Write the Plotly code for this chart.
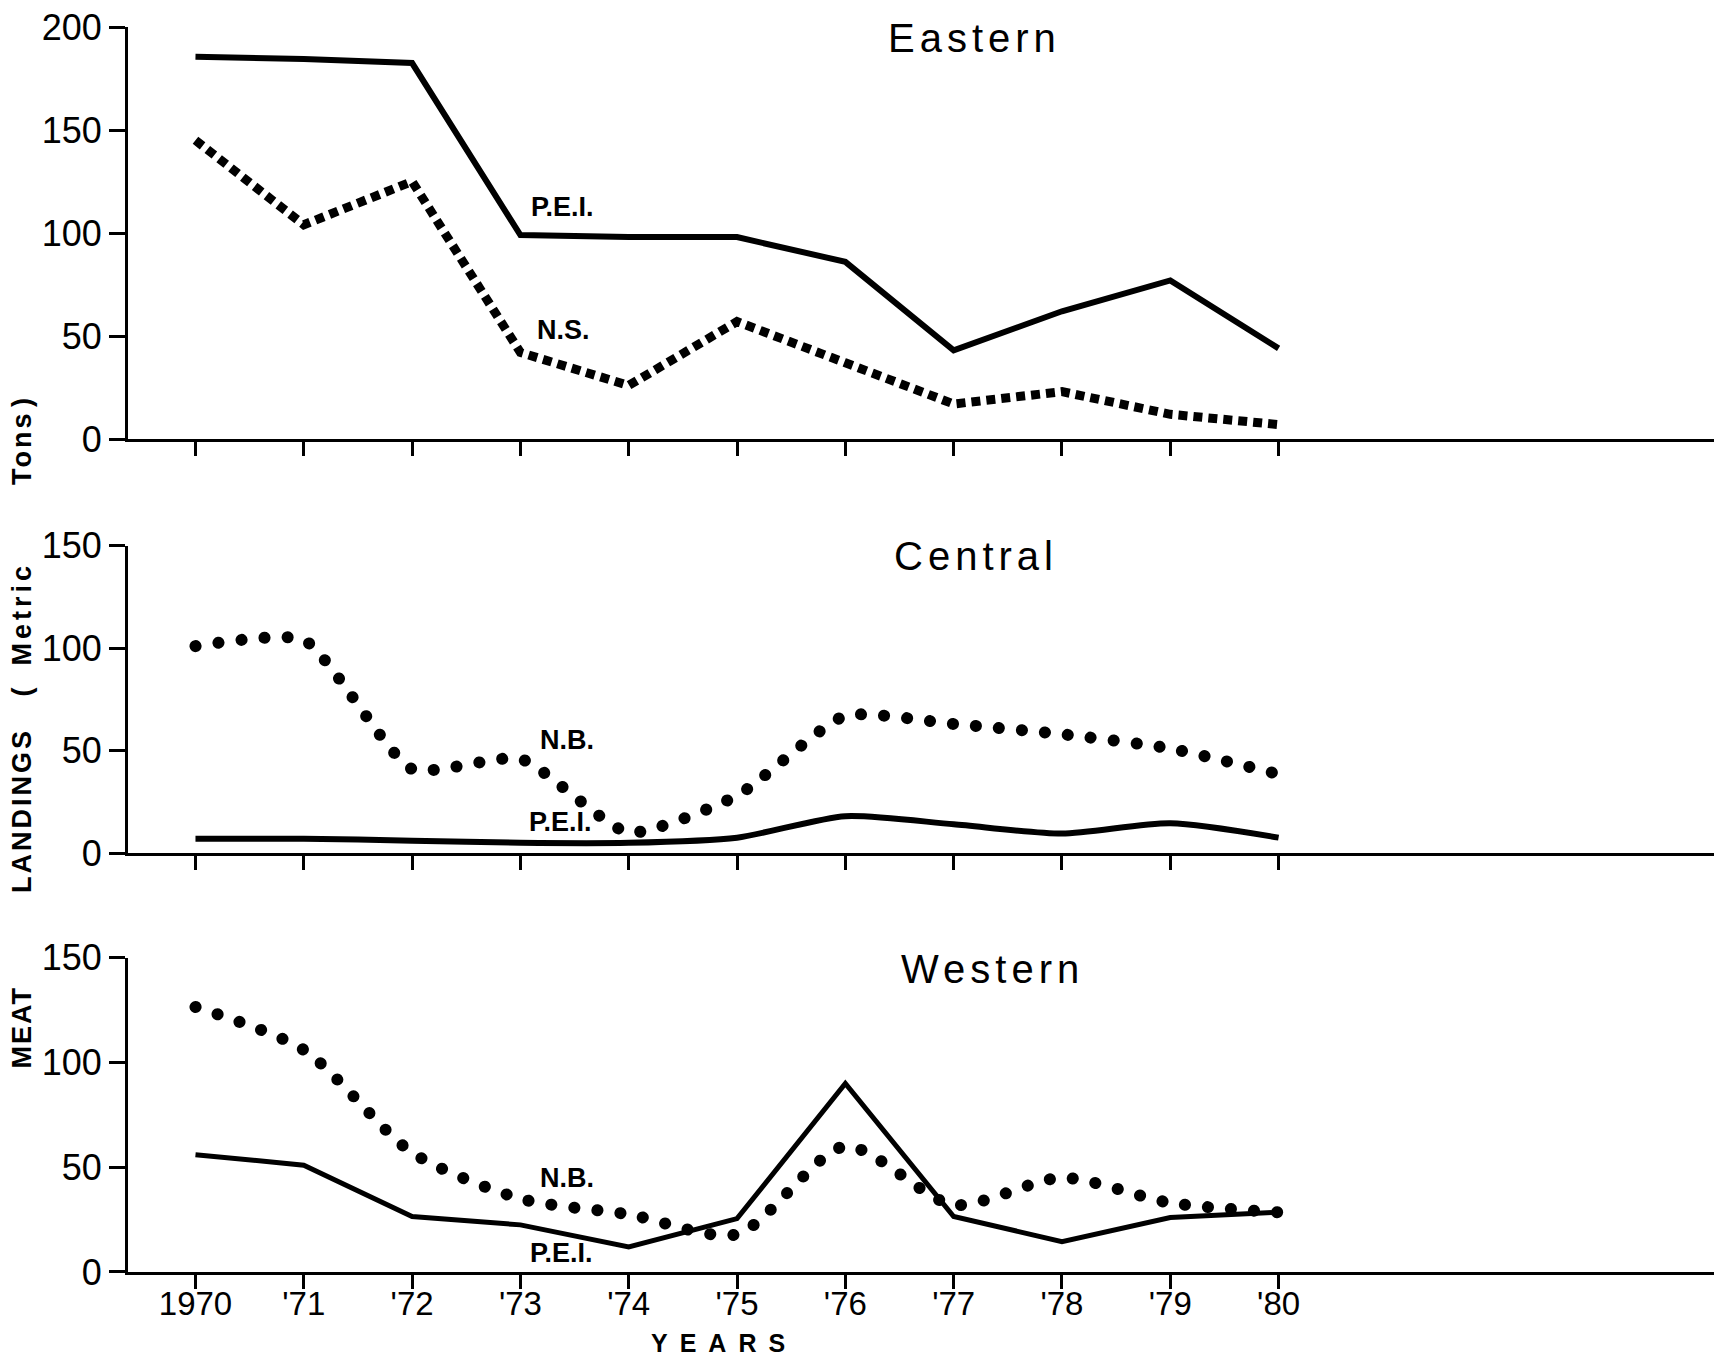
import plotly.graph_objects as go

# ---------------- data ----------------
years = [1970, 1971, 1972, 1973, 1974, 1975, 1976, 1977, 1978, 1979, 1980]
year_labels = ["1970", "'71", "'72", "'73", "'74", "'75", "'76", "'77", "'78", "'79", "'80"]

eastern_pei = [185.5, 184.5, 182.5, 99, 98, 98, 86, 43, 62, 77, 44]
eastern_ns = [145, 104, 125, 42, 26, 57, 37, 17, 23, 12, 7]

central_nb = [101, 104, 41, 46, 10, 28, 67, 63, 58, 51, 38.5]
central_pei = [7, 7, 6, 5, 5, 7.5, 18, 14, 9.5, 14.5, 7.5]

western_nb = [126.5, 106, 57, 35, 27.5, 18, 60, 32, 45, 33, 28.5]
western_pei = [56, 51, 26.5, 22.5, 12, 25.5, 90, 26.5, 14.5, 26, 28.5]

# ---------------- layout helpers ----------------
W, H = 1721, 1363
ML, MR, MT, MB = 128, 7, 24, 91
PW = W - ML - MR
PH = H - MT - MB


def px_x(X):
    return (X - ML) / PW


def px_y(Y):
    return (H - MB - Y) / PH


FONT = "Liberation Sans, Arial, Helvetica, sans-serif"
BLACK = "#000000"
ROUND_DASH = "13px,13px"

fig = go.Figure()

# Eastern
fig.add_trace(go.Scatter(x=years, y=eastern_pei, mode="lines", xaxis="x", yaxis="y",
                         line=dict(color=BLACK, width=6), showlegend=False))
fig.add_trace(go.Scatter(x=years, y=eastern_ns, mode="lines", xaxis="x", yaxis="y",
                         line=dict(color=BLACK, width=9, dash="9px,6px"), showlegend=False))
# Central
fig.add_trace(go.Scatter(x=years, y=central_pei, mode="lines", xaxis="x2", yaxis="y2",
                         line=dict(color=BLACK, width=6, shape="spline", smoothing=0.7),
                         showlegend=False))
fig.add_trace(go.Scatter(x=years, y=central_nb, mode="lines", xaxis="x2", yaxis="y2",
                         line=dict(color=BLACK, width=12, dash=ROUND_DASH, shape="spline",
                                   smoothing=0.55), showlegend=False))
# Western
fig.add_trace(go.Scatter(x=years, y=western_pei, mode="lines", xaxis="x3", yaxis="y3",
                         line=dict(color=BLACK, width=5), showlegend=False))
fig.add_trace(go.Scatter(x=years, y=western_nb, mode="lines", xaxis="x3", yaxis="y3",
                         line=dict(color=BLACK, width=12, dash=ROUND_DASH, shape="spline",
                                   smoothing=0.75), showlegend=False))

xr = [1969.377, 1984.02]

xcommon = dict(range=xr, showline=True, linecolor=BLACK, linewidth=3, ticks="outside",
               ticklen=14, tickwidth=3, tickcolor=BLACK, tickvals=years, showgrid=False,
               zeroline=False, fixedrange=True)
ycommon = dict(showline=True, linecolor=BLACK, linewidth=3, ticks="outside", ticklen=16,
               tickwidth=3, tickcolor=BLACK, showgrid=False, zeroline=False,
               tickfont=dict(family=FONT, size=36, color=BLACK), fixedrange=True)

dom_top = [px_y(437), 1.0]
dom_mid = [px_y(852), px_y(544)]
dom_bot = [0.0, px_y(957)]

fig.update_layout(
    width=W, height=H,
    margin=dict(l=ML, r=MR, t=MT, b=MB),
    paper_bgcolor="white", plot_bgcolor="white",
    font=dict(family=FONT, color=BLACK),
    xaxis=dict(xcommon, anchor="y", showticklabels=False),
    xaxis2=dict(xcommon, anchor="y2", showticklabels=False),
    xaxis3=dict(xcommon, anchor="y3", showticklabels=True, ticktext=year_labels,
                ticklabelstandoff=-14,
                tickfont=dict(family=FONT, size=33, color=BLACK)),
    yaxis=dict(ycommon, domain=dom_top, range=[0, 200], tickvals=[0, 50, 100, 150, 200],
               anchor="x"),
    yaxis2=dict(ycommon, domain=dom_mid, range=[0, 150], tickvals=[0, 50, 100, 150],
                anchor="x2"),
    yaxis3=dict(ycommon, domain=dom_bot, range=[0, 150], tickvals=[0, 50, 100, 150],
                anchor="x3"),
)


def sp(text, ls):
    return '<span style="letter-spacing:%spx">%s</span>' % (ls, text)


def ann(text, X, Y, size, bold=False, angle=0, ls=0):
    t = sp(text, ls) if ls else text
    if bold:
        t = "<b>" + t + "</b>"
    fig.add_annotation(text=t, x=px_x(X), y=px_y(Y), xref="paper", yref="paper",
                       xanchor="center", yanchor="middle", showarrow=False,
                       textangle=angle, font=dict(family=FONT, size=size, color=BLACK))


# panel titles
ann("Eastern", 974, 35, 40, ls=5)
ann("Central", 976, 554, 40, ls=5)
ann("Western", 992, 968, 40, ls=5)

# series labels
ann("P.E.I.", 562, 204, 27, bold=True)
ann("N.S.", 563, 328, 27, bold=True)
ann("N.B.", 567, 739, 27, bold=True)
ann("P.E.I.", 560, 821, 27, bold=True)
ann("N.B.", 567, 1178, 27, bold=True)
ann("P.E.I.", 561, 1253, 27, bold=True)

# axis titles
ann("YEARS", 724, 1343, 25, bold=True, ls=12)
ann("MEAT", 22, 1027, 27, bold=True, angle=-90, ls=2)
ann("LANDINGS", 22, 810, 27, bold=True, angle=-90, ls=3)
ann("(", 22, 691, 27, bold=True, angle=-90)
ann("Metric", 22, 612, 27, bold=True, angle=-90, ls=4)
ann("Tons", 22, 446, 27, bold=True, angle=-90, ls=3)
ann(")", 22, 401, 27, bold=True, angle=-90)

post = """
document.body.style.margin = '0';
document.body.style.padding = '0';
var gd = document.getElementById('{plot_id}');
function fixDots(){
  gd.querySelectorAll('path.js-line').forEach(function(p){
    var d = (p.style.strokeDasharray || '').replace(/\\s/g, '');
    if (d === '13px,13px') {
      p.style.strokeLinecap = 'round';
      p.style.strokeDasharray = '0.1px,23px';
    }
  });
}
fixDots();
gd.on('plotly_afterplot', fixDots);
"""

fig.write_html("out.html", post_script=post, config={"displayModeBar": False})
